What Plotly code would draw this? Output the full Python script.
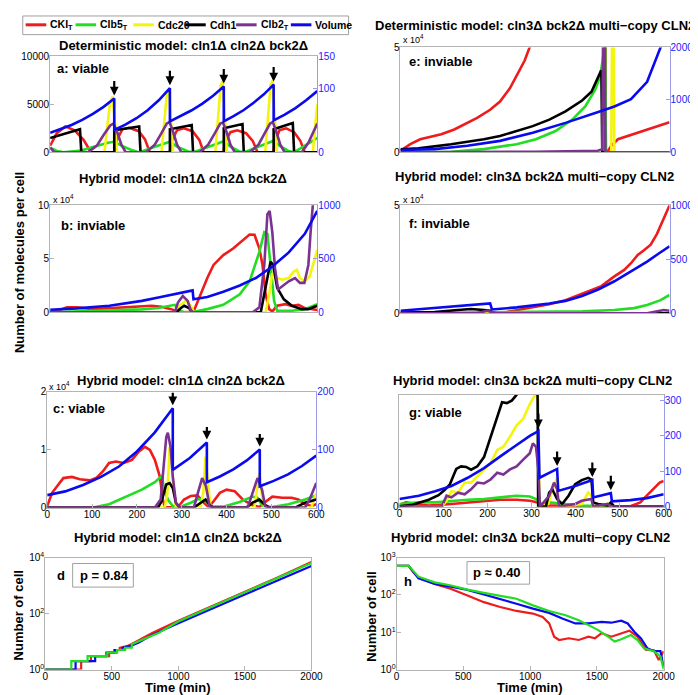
import plotly.graph_objects as go

W, H = 698, 695
def px(x): return x / W
def py(y): return 1 - y / H

FONT = "Liberation Sans, Arial, Helvetica, sans-serif"
RED = '#ee1c1c'; GREEN = '#22dd22'; YELLOW = '#f4f40c'; BLACK = '#000000'
PURPLE = '#7b3290'; BLUE = '#0a0aee'
AXGREY = '#b4b4b4'; AXBLUE = '#9a9ae6'; TICKBLUE = '#1a1aff'

SERIES_NAMES = ['CKI<sub>T</sub>', 'Clb5<sub>T</sub>', 'Cdc20', 'Cdh1', 'Clb2<sub>T</sub>', 'Volume']
SERIES_COLORS = [RED, GREEN, YELLOW, BLACK, PURPLE, BLUE]

# ---------------- Panel a: deterministic cln1 cln2 bck2 (viable) ----------------
a_cki_t = [0,15,34,55,75,92,144,147,162,177,199,213,224,269,271,285,300,320,335,345,390,392,405,420,440,455,466,502,504,515,530,548,562,572,600]
a_cki = [700,2000,2700,2300,1300,0,0,1000,2400,2550,2200,1350,0,0,1000,2300,2500,2200,1300,0,0,1000,2100,2300,2000,1200,0,0,1000,2300,2500,2100,1200,0,0]
a_clb5_t = [0,15,30,70,100,130,144,160,180,200,230,260,269,285,310,321,350,380,390,405,425,435,470,502,515,535,548,575,600]
a_clb5 = [500,150,0,200,600,1000,1100,700,300,0,500,1000,1100,600,100,0,500,1000,1150,600,100,0,600,1200,700,150,0,800,1500]
a_cdc20_t = [0,122,128,134,140,146,150,250,256,262,267,272,276,371,377,383,388,393,397,483,489,495,500,505,509,590,596,600]
a_cdc20 = [0,0,2500,5000,5800,3000,0,0,3000,6000,6600,3000,0,0,3500,7000,7400,3000,0,0,3500,7000,7500,3000,0,0,3000,5000]
a_cdh1_t = [0,67,70,144,144,200,203,269,269,318,321,390,390,432,435,502,502,545,548,600]
a_cdh1 = [1500,2400,0,0,2300,2700,0,0,2400,2850,0,0,2500,2950,0,0,2400,3050,0,0]
a_clb2_t = [0,10,85,105,120,135,142,150,160,170,215,235,250,262,268,275,285,295,335,355,370,382,388,395,405,415,448,468,482,494,500,507,517,527,565,580,592,600]
a_clb2 = [500,0,0,700,1800,2800,3000,2200,800,0,0,800,2000,3000,3150,2300,800,0,0,800,2000,3000,3100,2300,800,0,0,800,2000,3000,3150,2300,800,0,0,1000,2200,3000]
a_vol_t = [0,24,48,72,96,120,144,144,169,194,219,244,269,269,293,317,342,366,390,390,412,435,457,480,502,502,526,551,575,600]
a_vol = [30.5,36.1,42.8,50.6,60,71,84,35,43.2,53.3,65.8,81.2,100.2,48.3,56.2,65.3,76,88.3,102.7,48.3,56.5,66.1,77.3,90.5,105.8,49.8,58.6,69,81.2,95.6]

# ---------------- Panel e: deterministic cln3 bck2 multi-copy CLN2 (inviable) ----------------
e_cki_t = [0,22,44,69,91,120,142,171,200,222,244,262,277,288,300,450,455,458,463,470,485,507,529,550,572,600]
e_cki = [780,3900,6250,7500,8600,10900,13300,16400,20300,24200,30500,37500,43750,50000,60000,200000,200000,500,780,3100,6250,7800,9400,10900,12500,14400]
e_clb5_t = [0,113,186,259,302,346,383,412,434,445,452,454,456,458,600]
e_clb5 = [0,300,1560,3900,6250,10150,15600,21900,29700,36000,45300,51500,70000,0,0]
e_cdc20_t = [0,470,472,475,477,600]
e_cdc20 = [0,0,60000,60000,0,0]
e_cdh1_t = [0,40,113,186,222,259,295,332,368,405,426,447,448,450,600]
e_cdh1 = [1500,1900,3900,6250,7800,10150,12500,15600,19500,24700,28900,38750,39000,0,0]
e_clb2_t = [0,300,440,450,452,455,457,600]
e_clb2 = [0,300,800,1500,60000,60000,0,0]
e_vol_t = [0,76,149,222,295,368,441,477,514,550,580,600]
e_vol = [44,62,125,219,375,562,769,875,1012,1344,2000,2400]

# ---------------- Panel b: hybrid cln1 cln2 bck2 (inviable) ----------------
b_cki_t = [0,16,38,60,97,133,170,206,228,250,272,287,309,323,338,353,367,389,411,433,448,459,470,477,484,492,499,510,528,543,558,572,587,600]
b_cki = [0,1500,4600,4600,3000,3700,4600,5200,6100,5200,3000,600,0,1500,16800,32100,44300,53500,59600,67300,72800,72500,59600,44300,16800,3000,900,6100,7600,6100,7000,4000,3000,2100]
b_clb5_t = [0,60,133,206,243,265,280,290,301,323,353,389,426,448,470,481,488,495,503,510,543,572,600]
b_clb5 = [0,900,1500,2800,4000,6100,7000,1500,0,600,3000,7000,16800,29000,56600,74900,73400,44300,10700,1500,1500,3000,7600]
b_cdc20_t = [0,280,290,305,316,323,484,492,499,510,521,536,547,554,561,572,583,590,600]
b_cdc20 = [0,0,6100,10700,6100,0,0,16800,36700,32100,30600,32100,38200,39800,32100,29000,33600,42800,58100]
b_cdh1_t = [0,283,294,301,312,320,473,484,495,501,510,525,543,565,580,600]
b_cdh1 = [0,0,4000,6100,4000,0,0,22900,47400,44300,22900,12200,6100,3000,3000,6100]
b_clb2_t = [0,280,287,298,309,316,323,455,470,481,488,493,499,505,512,521,536,550,561,571,580,585,588,591,600]
b_clb2 = [0,0,9200,15300,10700,1500,0,0,4600,44300,91700,94800,74900,41300,21400,24500,29000,32100,27500,27500,44300,74900,100900,108000,150000]
b_vol_t = [0,60,133,206,243,280,320,322,353,389,426,462,499,536,572,600]
b_vol = [24.5,36.7,61,107,138,168,205,122,144,193,251,321,428,560,734,948]

# ---------------- Panel f: hybrid cln3 bck2 multi-copy CLN2 (inviable) ----------------
f_cki_t = [0,208,237,259,295,332,368,405,426,448,477,499,514,529,543,558,572,587,600]
f_cki = [0,0,600,1500,3000,4200,6100,9100,11000,12600,17100,20100,23200,27000,29200,31800,36800,43600,50000]
f_clb5_t = [0,186,332,405,477,521,550,580,600]
f_clb5 = [0,300,600,900,1500,2400,3900,6100,8500]
f_cdc20_t = [0,186,195,204,600]
f_cdc20 = [0,0,900,0,0]
f_cdh1_t = [0,76,128,157,186,200,204,600]
f_cdh1 = [300,600,1500,2000,1500,1200,0,0]
f_clb2_t = [0,171,193,204,215,550,572,587,600]
f_clb2 = [0,0,1200,450,0,0,900,1500,1200]
f_vol_t = [0,76,149,200,204,259,332,368,405,441,477,514,550,576,600]
f_vol = [24,48.5,70,91,36,55,91,115,161,221,297,388,479,554,621]

# ---------------- Panel c: hybrid cln1 cln2 bck2 (viable) ----------------
c_cki_t = [0,11,22,36,55,73,95,109,124,138,153,171,189,204,218,229,240,251,258,262,291,305,320,335,349,360,371,385,400,418,436,458,473,484,502,524,545,560,575,589,600]
c_cki = [280,2560,3700,5100,5300,4900,4700,5100,6250,7700,7950,7700,8250,9650,10500,9950,8250,5400,1400,100,0,1400,2000,2100,850,100,1100,2550,3100,2850,1400,400,100,850,1900,1700,1700,1400,570,280,570]
c_clb5_t = [0,102,138,175,211,240,256,260,269,280,298,320,338,353,364,393,429,458,469,480,502,538,575,600]
c_clb5 = [0,0,570,1800,3100,4400,5500,3400,1400,280,170,850,1500,1100,170,170,970,1900,1700,280,100,570,1400,2100]
c_cdc20_t = [0,262,268,273,276,281,287,342,348,353,358,364,462,467,473,478,484,589,600]
c_cdc20 = [0,0,2550,10500,9950,3700,100,0,2550,8800,4800,100,0,2550,5950,2550,100,0,2550]
c_cdh1_t = [0,247,255,265.5,273,280,287,295,327,342,353,364,371,444,458,473,484,495,553,575,600]
c_cdh1 = [0,0,1100,4000,4250,3400,850,0,0,850,1400,280,0,0,850,1400,570,0,0,850,1400]
c_clb2_t = [0,240,253,260,265.5,269,275,280,287,295,327,336,345.5,354,362,367,447,458,469,479,486,491,575,585,600]
c_clb2 = [0,0,1400,7700,12200,12950,10500,5400,850,0,0,2550,5100,3700,280,0,0,2550,5100,3100,280,0,0,1400,4250]
c_vol_t = [0,40,80,120,160,200,240,280,280,318,356,356,385,415,445,474,474,505,537,568,600]
c_vol = [21.6,28,39,53,71,97,130,171.5,65.3,85.7,112.5,43.7,53.8,66.2,81.5,100.3,36.9,46.1,57.5,71.8,89.7]

# ---------------- Panel g: hybrid cln3 bck2 multi-copy CLN2 (viable) ----------------
g_cki_t = [0,15,37,66.5,118,155,192,229,266,296,314,321,355,377,524.6,547,561.6,576,591,600]
g_cki = [290,760,470,180,470,760,940,1230,1230,1050,760,180,180,60,60,760,1950,3100,4300,4600]
g_clb5_t = [0,44,81,118,155,192,229,266,296,310,318,340,377,414,488,600]
g_clb5 = [470,760,760,1050,1230,1350,1650,1950,1800,1350,470,760,470,180,60,60]
g_cdc20_t = [0,96,107,118,133,148,162.6,177,192,207,222,236,251,266,281,296,306.6,310,315,318,338,349,358,362,414,428.6,436,439,473,480,600]
g_cdc20 = [0,0,1050,2800,2500,4300,4300,5450,6650,7800,10150,10700,12500,14550,15700,18350,19800,20700,18950,0,470,3400,5150,0,470,2500,1950,0,470,0,0]
g_cdh1_t = [0,29.6,66.5,88.7,103,114.5,122,129,140,151.5,162.6,177,192,207,222,233,244,255,266,273,290,313,315,332.5,340,347,358,369.5,384,399,414,428.6,436,440,451,473,480,488,600]
g_cdh1 = [60,350,1230,2050,3000,4000,5450,6750,7200,7100,6600,7200,8850,12500,16300,18650,18500,18950,20000,21300,30000,30000,0,0,2500,3100,1350,470,1950,4000,4750,5150,4850,760,470,180,760,0,0]
g_clb2_t = [0,96,107,118,133,148,162.6,177,192,207,222,236,251,266,281,296,303,310,315.5,319,340,351,358,362,399,414,436,440,473,480,600]
g_clb2 = [0,0,1950,1650,2500,2200,3100,4300,4150,4850,6050,5750,6650,7200,8400,9550,11300,10700,6650,0,1950,4300,3100,0,470,1050,1350,0,470,0,0]
g_vol_t = [0,44,81,118,155,192,229,266,296,315.5,318,340,358,360.6,399,438,440,480,482.5,524.6,561.6,600]
g_vol = [21.3,30.6,43.5,58.3,81.5,109,142,174,200,213,81.5,95.4,106.5,44.4,58.3,75,26,38,14.8,18.5,24,35.2]

# ---------------- Panel d: population, cln1 cln2 bck2 ----------------
d_red_t = [0,270,270,343,343,480,480,530,530,560,560,620,700,800,1000,1250,1500,1750,2000]
d_red = [1,1,2,2,3,3,4,4,5,5,6,7,11,20,55,180,600,2000,7000]
d_blue_t = [0,228,228,375,375,460,460,520,520,580,580,640,700,800,1000,1250,1500,1750,2000]
d_blue = [1,1,2,2,3,3,4,4,5,5,6,7,9,17,45,150,480,1550,5000]
d_green_t = [0,196,196,318,318,466,466,540,540,600,600,650,650,700,760,850,1000,1250,1500,1750,2000]
d_green = [1,1,2,2,3,3,4,4,5,5,6,6,8,10,13,20,52,173,577,1920,6400]

# ---------------- Panel h: population, cln3 bck2 multi-copy CLN2 ----------------
h_red_t = [0,91,127,164,286,409,531,654,776,898,1021,1094,1143,1180,1217,1290,1364,1437,1486,1535,1608,1682,1743,1804,1865,1927,1963,2000]
h_red = [603,603,400,296,197,145,97,64,47.5,37.2,31.7,25.8,17.2,7.6,6.2,6.9,6.2,7.6,6.9,9.4,7.6,9.4,11,7.6,3.4,3.3,1.8,3.1]
h_blue_t = [0,91,164,286,409,531,654,776,898,1021,1143,1241,1339,1437,1535,1608,1682,1731,1780,1829,1878,1927,1976,2000]
h_blue = [603,603,278,197,167,137,103,79,58,43,33,23.4,17.2,17.2,19,18,20.3,17.2,10.3,6.9,3.7,3.1,3.1,1.2]
h_green_t = [0,91,164,286,409,531,654,776,898,1021,1143,1266,1364,1437,1510,1584,1633,1682,1755,1804,1853,1927,1976,2000]
h_green = [603,603,309,218,179,139,114,97,79,52.5,37.2,28.6,21,15.5,11.4,7.6,5.6,6.5,8.4,6.2,3.7,3.1,2.25,1]

# ---------------- Tick labels ----------------
a_left_ticks = ([0, 5000, 10000], ['0', '5000', '10000']); a_right_ticks = [0, 100, 150]
e_left_ticks = ([0, 50000], ['0', '5']); e_right_ticks = [0, 1000, 2000]
b_left_ticks = ([0, 50000, 100000], ['0', '5', '10']); b_right_ticks = [0, 500, 1000]
f_left_ticks = ([0, 50000], ['0', '5']); f_right_ticks = [0, 500, 1000]
c_left_ticks = ([0, 10000, 20000], ['0', '1', '2']); c_right_ticks = [0, 100, 200]
g_left_ticks = ([0], ['0']); g_right_ticks = [0, 100, 200, 300]
time_ticks_600 = [0, 100, 200, 300, 400, 500, 600]
time_ticks_2000 = [0, 500, 1000, 1500, 2000]
d_log_ticks = ([1, 100, 10000], ['10<sup>0</sup>', '10<sup>2</sup>', '10<sup>4</sup>'])
h_log_ticks = ([1, 10, 100, 1000], ['10<sup>0</sup>', '10<sup>1</sup>', '10<sup>2</sup>', '10<sup>3</sup>'])

fig = go.Figure()

def add_line(t, v, color, xa, ya, width=2.6):
    fig.add_trace(go.Scatter(x=t, y=v, mode='lines', line=dict(color=color, width=width),
                             xaxis=xa, yaxis=ya, showlegend=False, hoverinfo='skip'))

panels = [
    ('a', 'x', 'y', 'y2', [(a_cki_t, a_cki), (a_clb5_t, a_clb5), (a_cdc20_t, a_cdc20), (a_cdh1_t, a_cdh1), (a_clb2_t, a_clb2)], (a_vol_t, a_vol), True),
    ('e', 'x2', 'y3', 'y4', [(e_cki_t, e_cki), (e_clb5_t, e_clb5), (e_cdc20_t, e_cdc20), (e_cdh1_t, e_cdh1), (e_clb2_t, e_clb2)], (e_vol_t, e_vol), False),
    ('b', 'x3', 'y5', 'y6', [(b_cki_t, b_cki), (b_clb5_t, b_clb5), (b_cdc20_t, b_cdc20), (b_cdh1_t, b_cdh1), (b_clb2_t, b_clb2)], (b_vol_t, b_vol), False),
    ('f', 'x4', 'y7', 'y8', [(f_cki_t, f_cki), (f_clb5_t, f_clb5), (f_cdc20_t, f_cdc20), (f_cdh1_t, f_cdh1), (f_clb2_t, f_clb2)], (f_vol_t, f_vol), False),
    ('c', 'x5', 'y9', 'y10', [(c_cki_t, c_cki), (c_clb5_t, c_clb5), (c_cdc20_t, c_cdc20), (c_cdh1_t, c_cdh1), (c_clb2_t, c_clb2)], (c_vol_t, c_vol), True),
    ('g', 'x6', 'y11', 'y12', [(g_cki_t, g_cki), (g_clb5_t, g_clb5), (g_cdc20_t, g_cdc20), (g_cdh1_t, g_cdh1), (g_clb2_t, g_clb2)], (g_vol_t, g_vol), True),
]

annotations = []
arrow_len = {'a': -19, 'c': -17, 'g': -19}
for key, xa, yl, yr, species, vol, arrows in panels:
    for (t, v), col in zip(species, SERIES_COLORS[:5]):
        add_line(t, v, col, xa, yl)
    add_line(vol[0], vol[1], BLUE, xa, yr)
    if arrows:
        vt, vv = vol
        for i in range(len(vv) - 1):
            if vv[i + 1] < 0.8 * vv[i]:
                annotations.append(dict(x=vt[i], y=vv[i], xref=xa, yref=yr, text='', showarrow=True,
                                        ax=0, ay=arrow_len[key], arrowhead=2, arrowsize=0.8,
                                        arrowwidth=2.2, arrowcolor='black', standoff=3))

for t, v, col in [(d_red_t, d_red, RED), (d_blue_t, d_blue, BLUE), (d_green_t, d_green, GREEN)]:
    add_line(t, v, col, 'x7', 'y13', width=2.2)
for t, v, col in [(h_red_t, h_red, RED), (h_blue_t, h_blue, BLUE), (h_green_t, h_green, GREEN)]:
    add_line(t, v, col, 'x8', 'y14', width=2.2)

TF = dict(family=FONT, size=10, color='black')
TFB = dict(family=FONT, size=10, color=TICKBLUE)

def xax(x0, x1, anchor, rng, tickvals=None):
    d = dict(domain=[px(x0), px(x1)], anchor=anchor, range=rng, showline=True, mirror=True,
             linecolor=AXGREY, linewidth=1, showgrid=False, zeroline=False, tickfont=TF)
    if tickvals is None:
        d.update(showticklabels=False, ticks='')
    else:
        d.update(tickvals=tickvals, ticks='inside', ticklen=4, tickcolor=AXGREY, ticklabelstandoff=-3)
    return d

def yleft(y0, y1, anchor, rng, ticks, mirror=False, log=False):
    d = dict(domain=[py(y1), py(y0)], anchor=anchor, range=rng, showline=True, mirror=mirror,
             linecolor=AXGREY, linewidth=1, showgrid=False, zeroline=False, tickfont=TF,
             tickvals=ticks[0], ticktext=ticks[1], ticks='inside', ticklen=4, tickcolor=AXGREY,
             ticklabelstandoff=-2)
    if log:
        d['type'] = 'log'
    return d

def yright(overlay, anchor, rng, tickvals):
    return dict(overlaying=overlay, anchor=anchor, side='right', range=rng, showline=True,
                linecolor=AXBLUE, linewidth=1, showgrid=False, zeroline=False, tickfont=TFB,
                tickvals=tickvals, ticks='inside', ticklen=4, tickcolor=AXBLUE, ticklabelstandoff=-2)

layout = dict(
    width=W, height=H, margin=dict(l=0, r=0, t=0, b=0), showlegend=False,
    plot_bgcolor='white', paper_bgcolor='white', font=dict(family=FONT),
    xaxis=xax(40, 313, 'y', [0, 600]),
    yaxis=yleft(42, 140, 'x', [0, 10000], a_left_ticks),
    yaxis2=yright('y', 'x', [0, 150], a_right_ticks),
    xaxis2=xax(398, 673, 'y3', [0, 600]),
    yaxis3=yleft(33, 140, 'x2', [0, 50000], e_left_ticks),
    yaxis4=yright('y3', 'x2', [0, 2000], e_right_ticks),
    xaxis3=xax(40, 313, 'y5', [0, 600]),
    yaxis5=yleft(194, 303, 'x3', [0, 100000], b_left_ticks),
    yaxis6=yright('y5', 'x3', [0, 1000], b_right_ticks),
    xaxis4=xax(398, 673, 'y7', [0, 600]),
    yaxis7=yleft(194, 304, 'x4', [0, 50000], f_left_ticks),
    yaxis8=yright('y7', 'x4', [0, 1000], f_right_ticks),
    xaxis5=xax(37, 312, 'y9', [0, 600], time_ticks_600),
    yaxis9=yleft(384, 502, 'x5', [0, 20000], c_left_ticks),
    yaxis10=yright('y9', 'x5', [0, 200], c_right_ticks),
    xaxis6=xax(397, 667, 'y11', [0, 600], time_ticks_600),
    yaxis11=yleft(387, 501, 'x6', [0, 20000], g_left_ticks),
    yaxis12=yright('y11', 'x6', [0, 316], g_right_ticks),
    xaxis7=xax(35, 307, 'y13', [0, 2000], time_ticks_2000),
    yaxis13=yleft(553, 667, 'x7', [0, 4], d_log_ticks, mirror=True, log=True),
    xaxis8=xax(394, 667, 'y14', [0, 2000], time_ticks_2000),
    yaxis14=yleft(553, 667, 'x8', [0, 3], h_log_ticks, mirror=True, log=True),
)

def text(x, y, s, size=13, bold=True, xanchor='center', angle=0, color='black'):
    annotations.append(dict(x=px(x), y=py(y), xref='paper', yref='paper', text=('<b>%s</b>' % s) if bold else s,
                            showarrow=False, xanchor=xanchor, yanchor='middle', textangle=angle,
                            font=dict(family=FONT, size=size, color=color)))

T1 = 'Deterministic model: cln1\u0394 cln2\u0394 bck2\u0394'
T2 = 'Deterministic model: cln3\u0394 bck2\u0394 multi\u2212copy CLN2'
T3 = 'Hybrid model: cln1\u0394 cln2\u0394 bck2\u0394'
T4 = 'Hybrid model: cln3\u0394 bck2\u0394 multi\u2212copy CLN2'
text(176, 31, T1); text(535, 11, T2)
text(176, 167, T3); text(535, 165, T4)
text(174, 372, T3); text(533, 372, T4)
text(171, 532, T3); text(531, 532, T4)

text(45, 55, 'a: viable', xanchor='left')
text(405, 47, 'e: inviable', xanchor='left')
text(49, 215, 'b: inviable', xanchor='left')
text(405, 212, 'f: inviable', xanchor='left')
text(41, 401, 'c: viable', xanchor='left')
text(405, 405, 'g: viable', xanchor='left')
text(45, 571, 'd', xanchor='left')
text(400, 577, 'h', xanchor='left')
text(68, 571, 'p = 0.84', xanchor='left')
text(470, 568, 'p \u2248 0.40', xanchor='left')

for (x, y) in [(399, 24), (41, 187), (399, 187), (37, 378)]:
    text(x, y, 'x 10<sup>4</sup>', size=9, bold=False, xanchor='left')

text(8, 252, 'Number of molecules per cell', angle=-90)
text(8, 612, 'Number of cell', angle=-90)
text(368, 613, 'Number of cell', angle=-90)
text(171, 685, 'Time (min)', size=13)
text(530, 685, 'Time (min)', size=13)

shapes = []
for (x0, y0, x1, y1) in [(63, 559, 125, 583), (466, 557, 530, 580)]:
    shapes.append(dict(type='rect', xref='paper', yref='paper', x0=px(x0), y0=py(y0), x1=px(x1), y1=py(y1),
                       line=dict(color='#a0a0a0', width=1), fillcolor='white', layer='above'))

shapes.append(dict(type='rect', xref='paper', yref='paper', x0=px(12), y0=py(20), x1=px(345), y1=py(1),
                   line=dict(color='#a0a0a0', width=1), fillcolor='white'))
legend_x = [15, 66, 125, 178, 230, 286]
for lx, name, col in zip(legend_x, SERIES_NAMES, SERIES_COLORS):
    shapes.append(dict(type='line', xref='paper', yref='paper', x0=px(lx), x1=px(lx + 21), y0=py(10), y1=py(10),
                       line=dict(color=col, width=3)))
    text(lx + 23, 10, name, size=10.5, xanchor='left')

layout['annotations'] = annotations
layout['shapes'] = shapes
fig.update_layout(**layout)
fig.write_html('out.html')
